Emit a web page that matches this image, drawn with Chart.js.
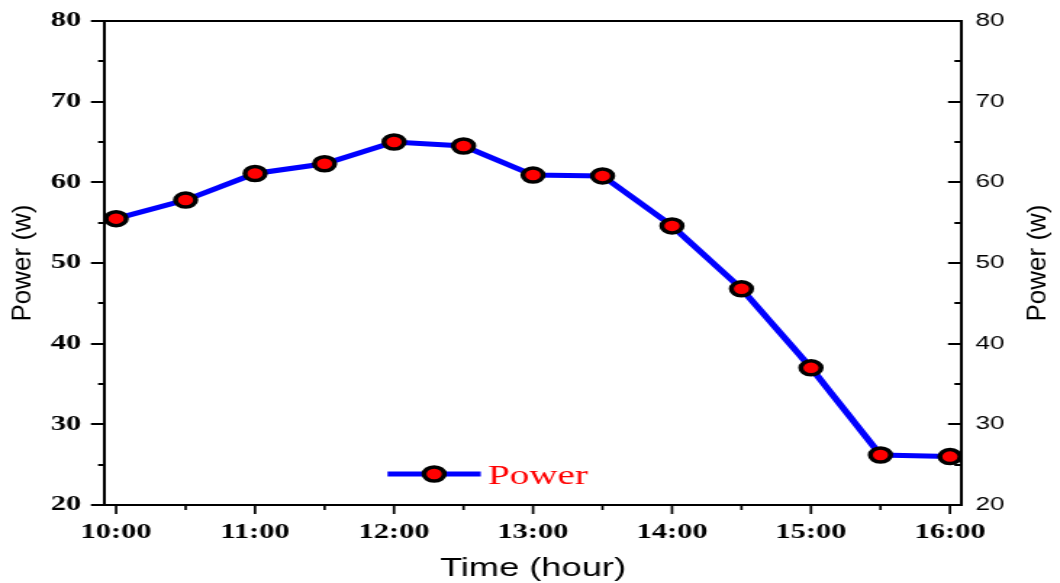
<!DOCTYPE html>
<html>
<head>
<meta charset="utf-8">
<script src="https://cdn.jsdelivr.net/npm/chart.js@4"></script>
<style>
  html, body { margin: 0; padding: 0; background: #fff; overflow: hidden; }
  #wrap { width: 731px; height: 583px; transform: scaleX(1.45); transform-origin: 0 0; }
</style>
</head>
<body>
<div id="wrap"><canvas id="power-chart" width="731" height="583"></canvas></div>
<script>
// readings, one every half hour
const timeLabels = ["10:00", "10:30", "11:00", "11:30", "12:00", "12:30", "13:00",
                    "13:30", "14:00", "14:30", "15:00", "15:30", "16:00"];
const powerValues = [55.5, 57.8, 61.1, 62.3, 65.0, 64.5, 60.9, 60.8, 54.6, 46.8, 37.0, 26.2, 26.0];
const yTicks = [20, 30, 40, 50, 60, 70, 80];
const seriesName = "Power";
const yTitle = "Power (w)";
const xTitle = "Time (hour)";

const toHours = t => { const [h, m] = t.split(":").map(Number); return h + m / 60; };
const points = timeLabels.map((t, i) => ({ x: toHours(t), y: powerValues[i] }));

const serif = "'Liberation Serif', 'Times New Roman', serif";
const sans = "'Liberation Sans', Arial, sans-serif";
const SX = 1.45; // page is stretched horizontally

// fixed axis sizes, no extra label padding
const fixWidth = w => s => { s.width = w; s.paddingTop = 0; s.paddingBottom = 0; };

// tick marks, titles on the sides and the legend inside the plot
const extras = {
    id: "extras",
    afterDraw(chart) {
        const ctx = chart.ctx;
        const { left, right, top, bottom } = chart.chartArea;
        const y = chart.scales.y, x = chart.scales.x;
        ctx.save();
        ctx.strokeStyle = "#000";
        ctx.lineWidth = 2;
        for (let v = yTicks[0]; v <= yTicks[yTicks.length - 1]; v += 5) {
            const py = Math.round(y.getPixelForValue(v));
            const major = v % 10 === 0;
            ctx.beginPath();
            ctx.moveTo(left - (major ? 9.7 : 4.8), py);
            ctx.lineTo(left, py);
            ctx.moveTo(right - (major ? 9 : 4.6), py);
            ctx.lineTo(right, py);
            ctx.stroke();
        }
        ctx.lineWidth = 1.7;
        for (let h = 10; h <= 16; h += 0.5) {
            const px = x.getPixelForValue(h);
            const major = h % 1 === 0;
            ctx.beginPath();
            ctx.moveTo(px, bottom);
            ctx.lineTo(px, bottom + (major ? 9 : 5));
            ctx.stroke();
        }
        // y titles, undo the page stretch so they keep their shape
        ctx.fillStyle = "#000";
        ctx.font = "26px " + sans;
        ctx.textAlign = "center";
        ctx.textBaseline = "middle";
        const midY = (top + bottom) / 2;
        [16, 716].forEach(cx => {
            ctx.save();
            ctx.translate(cx, midY);
            ctx.scale(1 / SX, 1);
            ctx.rotate(-Math.PI / 2);
            ctx.fillText(yTitle, 0, 0);
            ctx.restore();
        });
        // legend
        const w = right - left, h = bottom - top;
        const lx0 = left + w * 0.33, lx1 = left + w * 0.439, ly = top + h * 0.936;
        ctx.strokeStyle = "#0000ff";
        ctx.lineWidth = 5;
        ctx.beginPath();
        ctx.moveTo(lx0, ly);
        ctx.lineTo(lx1, ly);
        ctx.stroke();
        ctx.beginPath();
        ctx.arc((lx0 + lx1) / 2, ly, 7, 0, Math.PI * 2);
        ctx.fillStyle = "#ff0000";
        ctx.fill();
        ctx.lineWidth = 3.5;
        ctx.strokeStyle = "#000";
        ctx.stroke();
        ctx.fillStyle = "#ff0000";
        ctx.font = "27px " + serif;
        ctx.textAlign = "left";
        ctx.textBaseline = "alphabetic";
        ctx.fillText(seriesName, lx1 + 5, ly + 10);
        ctx.restore();
    }
};

const powerChart = new Chart(document.getElementById("power-chart"), {
    type: "line",
    data: {
        datasets: [
            {
                label: seriesName,
                data: points,
                borderColor: "#0000ff",
                borderWidth: 5,
                backgroundColor: "#ff0000",
                pointBackgroundColor: "#ff0000",
                pointBorderColor: "#000",
                pointBorderWidth: 3.5,
                pointRadius: 7,
                tension: 0,
                clip: false,
            },
        ],
    },
    options: {
        responsive: false,
        animation: false,
        events: [],
        layout: { padding: { top: 21, left: 0, right: 0, bottom: 0 } },
        plugins: {
            legend: { display: false },
            tooltip: { enabled: false },
        },
        scales: {
            x: {
                type: "linear",
                position: "bottom",
                min: 9.92,
                max: 16.08,
                afterFit: s => { s.height = 78; },
                grid: { drawOnChartArea: false, drawTicks: false },
                border: { display: true, color: "#000", width: 2 },
                ticks: {
                    stepSize: 1,
                    includeBounds: false,
                    padding: 15,
                    color: "#000",
                    font: { family: serif, size: 21, weight: "bold" },
                    callback: v => String(v).padStart(2, "0") + ":00",
                },
                title: {
                    display: true,
                    text: xTitle,
                    color: "#000",
                    font: { family: sans, size: 25, lineHeight: 1.1 },
                    padding: { top: 0, bottom: 0 },
                },
            },
            xTop: {
                type: "linear",
                position: "top",
                min: 9.92,
                max: 16.08,
                afterFit: s => { s.height = 0; },
                grid: { drawOnChartArea: false, drawTicks: false },
                border: { display: true, color: "#000", width: 2 },
                ticks: { display: false },
            },
            y: {
                position: "left",
                min: 20,
                max: 80,
                afterFit: fixWidth(72.4),
                grid: { drawOnChartArea: false, drawTicks: false },
                border: { display: true, color: "#000", width: 2 },
                ticks: {
                    stepSize: 10,
                    padding: 16.5,
                    color: "#000",
                    font: { family: serif, size: 21, weight: "bold" },
                },
            },
            y2: {
                position: "right",
                min: 20,
                max: 80,
                afterFit: fixWidth(68.2),
                grid: { drawOnChartArea: false, drawTicks: false },
                border: { display: true, color: "#000", width: 2 },
                ticks: {
                    stepSize: 10,
                    padding: 10,
                    color: "#000",
                    font: { family: sans, size: 18 },
                },
            },
        },
    },
    plugins: [extras],
});
</script>
</body>
</html>
